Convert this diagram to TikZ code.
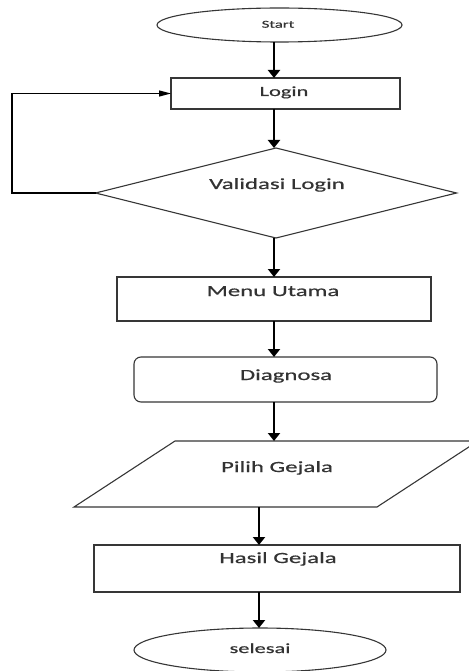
\documentclass[tikz,border=0pt]{standalone}
\usepackage{fontspec}
\setmainfont{Carlito}
\newfontfamily\wide[FakeStretch=1.6,FakeBold=0.6]{Carlito}
\usetikzlibrary{shapes.geometric,arrows.meta}
\definecolor{ln}{HTML}{363636}
\definecolor{tx}{HTML}{333333}
\begin{document}
\begin{tikzpicture}[x=1pt,y=-1pt,
  box/.style={draw=ln,line width=1.1pt,inner sep=0pt,outer sep=0pt},
  lbl/.style={anchor=base,text=tx,inner sep=0pt,font=\wide\fontsize{15.5}{18}\selectfont},
  arr/.style={draw=black,line width=2.5pt,-{Triangle[width=12pt,length=8pt]}},
  back/.style={draw=black,line width=1.2pt,-{Triangle[width=6pt,length=12pt]}}]
\useasboundingbox (0,0) rectangle (468,671);
\coordinate (c1) at (274,0);
\coordinate (c2) at (259,0);
\coordinate (lp) at (12,193);
% shapes
\node[box,ellipse,minimum width=245pt,minimum height=34pt] (start) at (279.5,25) {};
\node[box,rectangle,minimum width=229pt,minimum height=31pt] (login) at (285.5,93.5) {};
\node[box,diamond,minimum width=361pt,minimum height=90pt] (valid) at (276,193) {};
\node[box,rectangle,minimum width=314pt,minimum height=44pt] (menu) at (274,299) {};
\node[box,rectangle,rounded corners=7pt,minimum width=303pt,minimum height=45pt] (diag) at (285.5,379.5) {};
\node[inner sep=0pt,outer sep=0pt,minimum width=404pt,minimum height=66pt] (pilih) at (276,474) {};
\draw[draw=ln,line width=1.1pt] (175,441) -- (478,441) -- (377,507) -- (74,507) -- cycle;
\node[box,rectangle,minimum width=366pt,minimum height=47pt] (hasil) at (277,568.5) {};
\node[box,ellipse,minimum width=252pt,minimum height=44pt] (selesai) at (260,650) {};
% labels
\node[lbl,font=\wide\fontsize{10.5}{12}\selectfont] (tstart) at (278,27.7) {Start};
\node[lbl,font=\wide\fontsize{14}{16}\selectfont] (tlogin) at (284,96) {Login};
\node[lbl] (tvalid) at (277,189) {Validasi Login};
\node[lbl] (tmenu) at (273,296) {Menu Utama};
\node[lbl] (tdiag) at (286,380) {Diagnosa};
\node[lbl] (tpilih) at (277,472) {Pilih Gejala};
\node[lbl] (thasil) at (278,563) {Hasil Gejala};
\node[lbl,font=\wide\fontsize{14}{16}\selectfont] (tsel) at (260,653) {selesai};
% connectors
\draw[arr] (start.south -| c1) -- (login.north -| c1);
\draw[arr] (login.south -| c1) -- (valid.north -| c1);
\draw[arr] (valid.south -| c1) -- (menu.north -| c1);
\draw[arr] (menu.south -| c1) -- (diag.north -| c1);
\draw[arr] (diag.south -| c1) -- (pilih.north -| c1);
\draw[arr] (pilih.south -| c2) -- (hasil.north -| c2);
\draw[arr] (hasil.south -| c2) -- (selesai.north -| c2);
\draw[back] (valid.west) -- (lp) |- (login.west);
\end{tikzpicture}
\end{document}
